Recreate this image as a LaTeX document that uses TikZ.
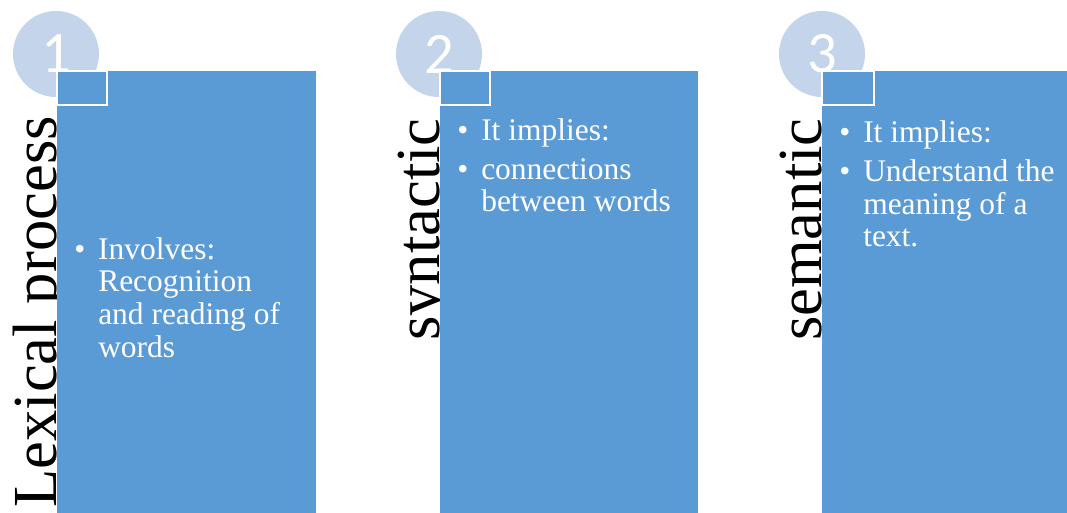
\documentclass[tikz,border=0pt]{standalone}
\usepackage{fontspec}
\setmainfont{Liberation Serif}
\newfontfamily\digitfont{Carlito}
\usepackage{tikz}
\definecolor{boxblue}{RGB}{91,155,213}
\definecolor{discblue}{RGB}{196,212,234}
\newcommand{\bul}{\makebox[18pt][l]{\textbullet}}
\newcommand{\nob}{\hspace*{18pt}}

\begin{document}
\begin{tikzpicture}[x=0.75pt, y=-0.75pt,
        disc/.style={circle, fill=discblue, minimum size=64.5pt, inner sep=0pt,
            text=white, font=\digitfont\fontsize{44}{44}\selectfont},
        side/.style={rotate=90, anchor=base east, inner sep=0pt,
            font=\fontsize{47}{50}\selectfont},
        body/.style={anchor=base west, align=left, inner sep=0pt, text=white,
            font=\fontsize{23.6}{24.4}\selectfont}]
    \useasboundingbox (0,0) rectangle (1067,513);
    % step titles, partly hidden by the boxes
    \node[side] (lex) at (56,116) {Lexical process};
    \node[side] (syn) at (439,118) {syntactic};
    \node[side] (sem) at (821,118) {semantic};
    \node[disc] (c1) at (56,54) {1};
    \node[disc] (c2) at (439,54) {2};
    \node[disc] (c3) at (822,54) {3};
    % boxes
    \fill[boxblue] (57,71) rectangle (316,513);
    \fill[boxblue] (440,71) rectangle (698,513);
    \fill[boxblue] (822,71) rectangle (1067,513);
    \draw[white, line width=1.1pt] (57,71) rectangle (107,105);
    \draw[white, line width=1.1pt] (440,71) rectangle (490,105);
    \draw[white, line width=1.1pt] (822,71) rectangle (874,105);
    % bullets (base = last line)
    \node[body] (t1) at (74,357) {\bul Involves:\\\nob Recognition\\\nob and reading of\\\nob words};
    \node[body] (t2) at (457,212) {\bul It implies:\\[5pt]\bul connections\\\nob between words};
    \node[body] (t3) at (839,247) {\bul It implies:\\[5pt]\bul Understand the\\\nob meaning of a\\\nob text.};
\end{tikzpicture}
\end{document}
